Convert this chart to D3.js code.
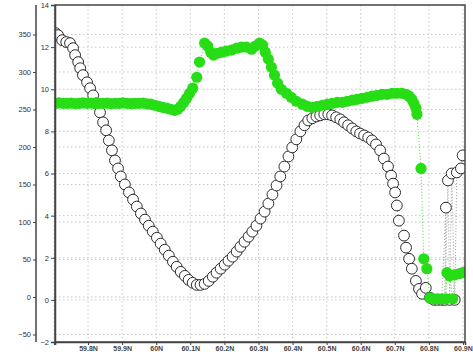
<!DOCTYPE html>
<html><head><meta charset="utf-8">
<script src="https://cdn.jsdelivr.net/npm/d3@7"></script>
<style>html,body{margin:0;padding:0;background:#fff;overflow:hidden}</style>
</head><body><svg id="c" width="473" height="355"></svg>
<script>
// Hollow (white) series: latitude, value (inner axis units)
const hollowLat = [59.704,59.712,59.724,59.736,59.747,59.756,59.762,59.771,59.777,59.785,59.797,59.806,59.815,59.823,59.835,59.844,59.853,59.861,59.870,59.879,59.888,59.896,59.908,59.920,59.932,59.943,59.955,59.967,59.978,59.990,60.002,60.013,60.025,60.037,60.049,60.060,60.072,60.084,60.095,60.107,60.119,60.130,60.142,60.154,60.166,60.177,60.189,60.201,60.212,60.224,60.236,60.247,60.259,60.271,60.282,60.294,60.306,60.318,60.329,60.341,60.353,60.364,60.376,60.388,60.399,60.411,60.423,60.435,60.446,60.458,60.470,60.481,60.493,60.505,60.516,60.528,60.540,60.551,60.563,60.575,60.587,60.598,60.610,60.622,60.633,60.645,60.657,60.668,60.680,60.689,60.695,60.701,60.706,60.712,60.727,60.733,60.742,60.750,60.762,60.771,60.780,60.791,60.803,60.815,60.826,60.838,60.850,60.847,60.856,60.861,60.867,60.876,60.882,60.894,60.899];
const hollowVal = [12.67,12.57,12.33,12.24,12.19,11.95,11.62,11.29,11.0,10.67,10.33,10.05,9.71,9.33,8.90,8.43,8.05,7.57,7.10,6.62,6.24,5.86,5.48,5.10,4.76,4.43,4.10,3.81,3.52,3.24,2.95,2.67,2.38,2.10,1.81,1.57,1.33,1.14,0.95,0.81,0.71,0.71,0.76,0.90,1.10,1.29,1.48,1.67,1.86,2.05,2.29,2.52,2.76,3.00,3.24,3.52,3.86,4.19,4.57,5.00,5.43,5.86,6.33,6.81,7.24,7.62,8.00,8.29,8.52,8.62,8.71,8.76,8.81,8.81,8.76,8.67,8.57,8.43,8.29,8.14,8.00,7.90,7.81,7.71,7.57,7.38,7.10,6.71,6.33,5.90,5.52,5.10,4.48,3.76,3.05,2.48,1.95,1.48,0.90,0.52,0.29,0.57,0.10,0,0,0,4.38,0,5.67,0,6.0,0,6.05,6.24,6.86];

// Green series
const greenLat = [59.704,59.715,59.727,59.739,59.750,59.762,59.774,59.785,59.797,59.809,59.820,59.832,59.844,59.856,59.867,59.879,59.891,59.902,59.914,59.926,59.937,59.949,59.961,59.973,
  59.984,59.996,60.008,60.019,60.031,60.043,60.054,60.063,60.072,60.081,60.089,60.098,60.107,60.119,60.127,60.142,60.151,60.160,60.168,60.180,60.192,60.206,60.221,60.236,60.250,60.265,60.280,60.291,60.303,60.312,60.320,60.329,60.338,60.347,60.356,60.367,60.382,60.396,60.411,
  60.429,60.443,60.458,60.473,60.487,60.502,60.516,60.531,60.546,60.560,60.575,60.589,60.604,60.619,60.633,60.648,60.663,60.677,60.692,60.706,60.721,60.733,60.742,60.750,60.756,60.762,60.765,
  60.777,60.785,60.794,60.803,60.815,60.826,60.838,60.850,60.853,60.861,60.870,60.876,60.888,60.899,60.908];
const greenVal = [9.33,9.35,9.33,9.33,9.34,9.32,9.33,9.35,9.33,9.34,9.32,9.33,9.33,9.34,9.32,9.33,9.33,9.35,9.33,9.32,9.33,9.33,9.34,9.31,
  9.29,9.24,9.19,9.14,9.10,9.05,9.00,9.05,9.19,9.38,9.57,9.81,10.05,10.57,11.29,12.19,12.05,11.76,11.62,11.71,11.76,11.81,11.86,11.95,12.0,12.0,11.90,12.05,12.19,12.10,11.76,11.43,11.05,10.67,10.29,10.0,9.81,9.62,9.43,
  9.29,9.19,9.14,9.19,9.24,9.29,9.33,9.38,9.38,9.43,9.48,9.52,9.57,9.62,9.67,9.71,9.76,9.76,9.81,9.81,9.81,9.76,9.67,9.52,9.33,9.10,8.81,
  6.24,1.95,1.48,0.10,0.05,0.05,0.05,0.05,1.29,1.14,0.05,1.19,1.24,1.29,1.33];

const xTicks = [59.7,59.8,59.9,60.0,60.1,60.2,60.3,60.4,60.5,60.6,60.7,60.8,60.9];
const xTickLabels = ["","59.8N","59.9N","60N","60.1N","60.2N","60.3N","60.4N","60.5N","60.6N","60.7N","60.8N","60.9N"];
const innerTicks = [-2,0,2,4,6,8,10,12,14];
const outerTicks = [-50,0,50,100,150,200,250,300,350];

const svg = d3.select("#c");
const L = 55, R = 465, T = 5, B = 342;
const x = d3.scaleLinear().domain([59.703, 60.906]).range([L, R]);
const yIn = d3.scaleLinear().domain([-2, 14]).range([B, T]);
const yOut = d3.scaleLinear().domain([-60, 389.3]).range([B, T]);

const font = "'Liberation Sans', Arial, sans-serif";
const gridCol = "#c8c8c8";
const g = svg.append("g");
g.selectAll("line.v").data(xTicks).join("line")
  .attr("x1", d => x(d)).attr("x2", d => x(d)).attr("y1", T).attr("y2", B)
  .attr("stroke", gridCol).attr("stroke-width", 1).attr("stroke-dasharray", "1.5,2.5");
g.selectAll("line.hi").data(innerTicks.slice(1, -1)).join("line")
  .attr("x1", L).attr("x2", R).attr("y1", d => yIn(d)).attr("y2", d => yIn(d))
  .attr("stroke", gridCol).attr("stroke-width", 1).attr("stroke-dasharray", "1.5,2.5");
svg.append("g").selectAll("line").data(outerTicks).join("line")
  .attr("x1", L).attr("x2", R).attr("y1", d => yOut(d)).attr("y2", d => yOut(d))
  .attr("stroke", gridCol).attr("stroke-width", 1).attr("stroke-dasharray", "1.5,2.5");

svg.append("clipPath").attr("id", "clp").append("rect")
  .attr("x", L).attr("y", T).attr("width", R - L).attr("height", B - T);
const plot = svg.append("g").attr("clip-path", "url(#clp)");

const hollow = hollowLat.map((d, i) => [d, hollowVal[i]]);
const green = greenLat.map((d, i) => [d, greenVal[i]]);
const line = d3.line().x(d => x(d[0])).y(d => yIn(d[1]));

plot.append("path").attr("d", line(hollow)).attr("fill", "none")
  .attr("stroke", "#9a9a9a").attr("stroke-width", 1).attr("stroke-dasharray", "1,2");
plot.append("g").selectAll("circle").data(hollow).join("circle")
  .attr("cx", d => x(d[0])).attr("cy", d => yIn(d[1])).attr("r", 5.4)
  .attr("fill", "#fff").attr("stroke", "#2a2a2a").attr("stroke-width", 1);

plot.append("path").attr("d", line(green)).attr("fill", "none")
  .attr("stroke", "#3ce02a").attr("stroke-width", 1).attr("stroke-dasharray", "1,2");
plot.append("g").selectAll("circle").data(green).join("circle")
  .attr("cx", d => x(d[0])).attr("cy", d => yIn(d[1])).attr("r", 5.6)
  .attr("fill", "#27dd16");

svg.append("rect").attr("x", L).attr("y", T).attr("width", R - L).attr("height", B - T)
  .attr("fill", "none").attr("stroke", "#444").attr("stroke-width", 1.5);

const ai = svg.append("g").attr("transform", `translate(${L},0)`)
  .call(d3.axisLeft(yIn).tickValues(innerTicks).tickSize(4).tickPadding(2).tickFormat(d3.format("d")));
const ao = svg.append("g").attr("transform", "translate(36,0)")
  .call(d3.axisLeft(yOut).tickValues(outerTicks).tickSize(3).tickPadding(2).tickFormat(d3.format("d")));
const ab = svg.append("g").attr("transform", `translate(0,${B})`)
  .call(d3.axisBottom(x).tickValues(xTicks).tickSize(3).tickPadding(1).tickFormat((d, i) => xTickLabels[i]));
ao.select(".domain").attr("d", `M0,${T}V${B}`);
[ai, ao, ab].forEach(a => {
  a.selectAll("text").attr("font-family", font).attr("font-size", 7.5).attr("fill", "#333");
  a.selectAll("line").attr("stroke", "#444");
  a.select(".domain").attr("stroke", "#444").attr("stroke-width", 1.5);
});
ab.selectAll("text").attr("font-size", 7).attr("font-weight", "bold").attr("fill", "#444");
</script></body></html>
